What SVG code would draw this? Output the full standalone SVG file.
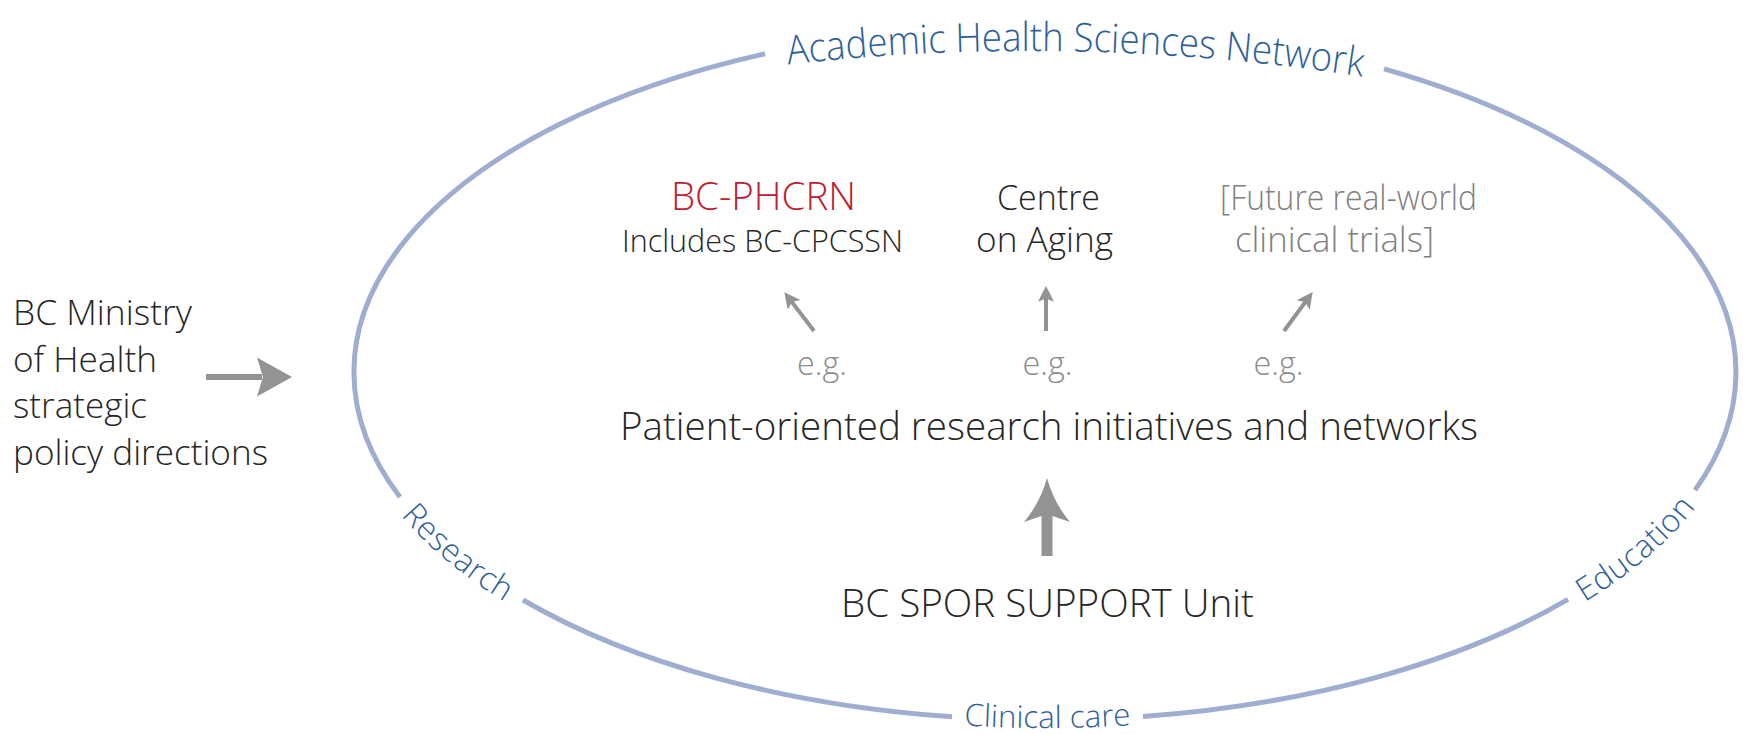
<svg xmlns="http://www.w3.org/2000/svg" width="1743" height="734" viewBox="0 0 1743 734">
<defs>
<style>
.t{font-family:"Open Sans","Liberation Sans",sans-serif;font-weight:300;fill:#262626}
.g{fill:#7f7f7f}
.e{fill:#8c8c8c}
.b{font-family:"Open Sans","Liberation Sans",sans-serif;font-weight:300;fill:#2f6199}
.ring{fill:none;stroke:#9fadd1;stroke-width:5}
.ar{stroke:#939393;fill:none}
.ah{fill:#939393}
</style>
<marker id="sa" markerUnits="userSpaceOnUse" markerWidth="16" markerHeight="16" viewBox="0 0 14 14" refX="6" refY="7" orient="auto">
<path d="M0,0 L14,7 L0,14 L3,7 z" fill="#939393"/>
</marker>
<path id="pTitle" d="M 770 66.6 A 2170 2170 0 0 1 1380 79.4"/>
<path id="pRes" d="M 400 496.9 A 691 348 0 0 0 523 600"/>
<path id="pEdu" d="M 1568 599.4 A 691 348 0 0 0 1695 490.1"/>
<path id="pCli" d="M 952 716.8 A 691 348 0 0 0 1143 716.5"/>
</defs>

<g id="network-ring">
<path class="ring" d="M 1384 68.8 A 691 348 0 0 1 1695 490.1"/>
<path class="ring" d="M 1568 599.4 A 691 348 0 0 1 1143 716.5"/>
<path class="ring" d="M 952 716.8 A 691 348 0 0 1 523 600"/>
<path class="ring" d="M 400 496.9 A 691 348 0 0 1 765 53.8"/>
<text class="b" font-size="40"><textPath href="#pTitle" startOffset="50%" text-anchor="middle" textLength="576" lengthAdjust="spacingAndGlyphs">Academic Health Sciences Network</textPath></text>
<text class="b" font-size="32"><textPath href="#pRes" startOffset="50%" text-anchor="middle"><tspan dy="11">Research</tspan></textPath></text>
<text class="b" font-size="32"><textPath href="#pEdu" startOffset="50%" text-anchor="middle"><tspan dy="11">Education</tspan></textPath></text>
<text class="b" font-size="31"><textPath href="#pCli" startOffset="50%" text-anchor="middle" textLength="166" lengthAdjust="spacingAndGlyphs"><tspan dy="8">Clinical care</tspan></textPath></text>
</g>

<g id="ministry">
<text class="t" font-size="35.5">
<tspan x="13" y="325" textLength="179" lengthAdjust="spacingAndGlyphs">BC Ministry</tspan>
<tspan x="13" y="372" textLength="144" lengthAdjust="spacingAndGlyphs">of Health</tspan>
<tspan x="13" y="418" textLength="134" lengthAdjust="spacingAndGlyphs">strategic</tspan>
<tspan x="13" y="465" textLength="255" lengthAdjust="spacingAndGlyphs">policy directions</tspan>
</text>
</g>

<g id="bc-phcrn">
<text class="t" font-size="38" x="763.5" y="210" text-anchor="middle" textLength="185" lengthAdjust="spacingAndGlyphs" style="fill:#c0202e">BC-PHCRN</text>
<text class="t" font-size="32" x="762.5" y="252" text-anchor="middle" textLength="281" lengthAdjust="spacingAndGlyphs">Includes BC-CPCSSN</text>
</g>

<g id="centre-aging">
<text class="t" font-size="35" x="1048.5" y="210" text-anchor="middle" textLength="103" lengthAdjust="spacingAndGlyphs">Centre</text>
<text class="t" font-size="35" x="1044.5" y="252" text-anchor="middle" textLength="137" lengthAdjust="spacingAndGlyphs">on Aging</text>
</g>

<g id="future-trials">
<text class="t g" font-size="35" x="1348.5" y="210" text-anchor="middle" textLength="257" lengthAdjust="spacingAndGlyphs">[Future real-world</text>
<text class="t g" font-size="35" x="1334.5" y="252" text-anchor="middle" textLength="199" lengthAdjust="spacingAndGlyphs">clinical trials]</text>
</g>

<g id="eg-labels">
<text class="t e" font-size="33" x="822" y="375" text-anchor="middle" textLength="50" lengthAdjust="spacingAndGlyphs">e.g.</text>
<text class="t e" font-size="33" x="1047.5" y="375" text-anchor="middle" textLength="50" lengthAdjust="spacingAndGlyphs">e.g.</text>
<text class="t e" font-size="33" x="1278.5" y="375" text-anchor="middle" textLength="50" lengthAdjust="spacingAndGlyphs">e.g.</text>
</g>

<g id="initiatives">
<text class="t" font-size="38" x="1049" y="440" text-anchor="middle" textLength="858" lengthAdjust="spacingAndGlyphs">Patient-oriented research initiatives and networks</text>
</g>

<g id="spor-unit">
<text class="t" font-size="39" x="1047.5" y="617" text-anchor="middle" textLength="413" lengthAdjust="spacingAndGlyphs">BC SPOR SUPPORT Unit</text>
</g>

<g id="connectors">
<line class="ar" stroke-width="6" x1="206" y1="377" x2="262" y2="377"/>
<path class="ah" d="M 292 377 L 257 357.5 L 263 377 L 257 396.5 Z"/>
<line class="ar" stroke-width="4" x1="814" y1="331" x2="789.9" y2="299.4" marker-end="url(#sa)"/>
<line class="ar" stroke-width="4" x1="1046" y1="331" x2="1046" y2="295" marker-end="url(#sa)"/>
<line class="ar" stroke-width="4" x1="1284" y1="331" x2="1307.3" y2="299.4" marker-end="url(#sa)"/>
<path class="ah" d="M 1041.5 556 L 1041.5 516 L 1024 522 Q 1040 503 1047 478 Q 1054 503 1070 522 L 1052.5 516 L 1052.5 556 Z"/>
</g>
</svg>
